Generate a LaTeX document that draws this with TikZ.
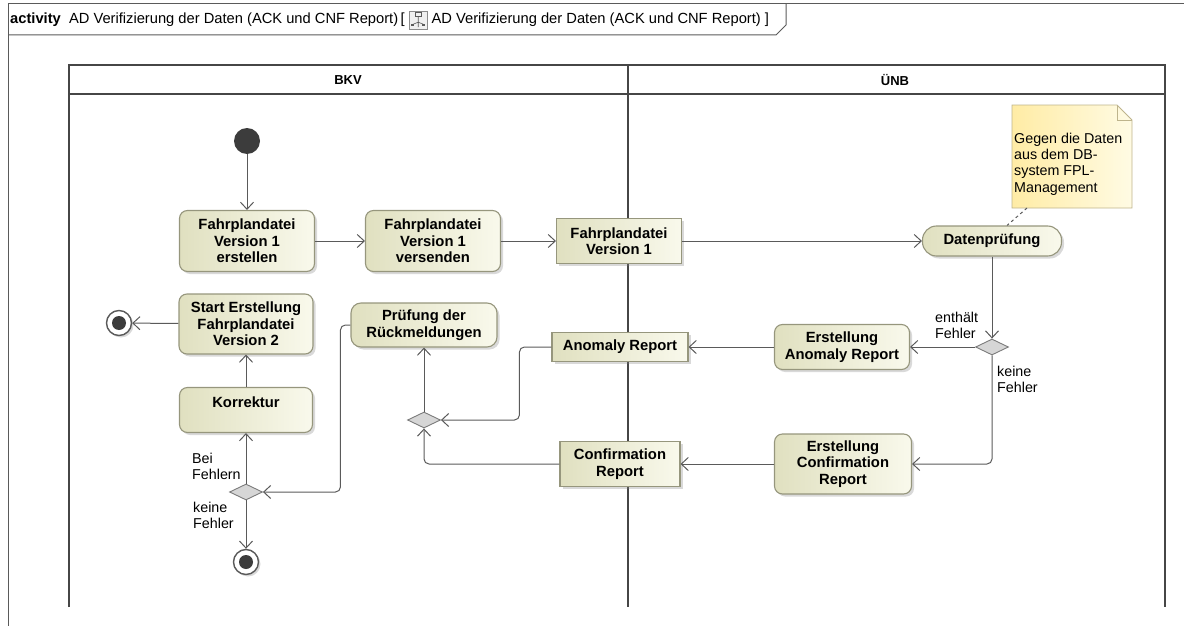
\documentclass[tikz,border=0pt]{standalone}
\usepackage{fontspec}
\setmainfont{Liberation Sans}
\usepackage{tikz}
\usetikzlibrary{shapes,arrows,positioning,calc,arrows.meta,shadows}

\definecolor{flowgray}{RGB}{90,90,90}
\definecolor{lanegray}{RGB}{70,70,70}
\definecolor{actleft}{RGB}{224,224,192}
\definecolor{actright}{RGB}{249,249,236}
\definecolor{actborder}{RGB}{150,150,125}
\definecolor{noteleft}{RGB}{255,236,165}
\definecolor{noteright}{RGB}{255,251,228}
\definecolor{noteborder}{RGB}{190,180,140}
\definecolor{decfill}{RGB}{214,214,214}
\definecolor{dotgray}{RGB}{60,60,60}

\newcommand{\lblfont}{\fontsize{14.3}{16.2}\selectfont}
\newcommand{\boldfont}{\fontsize{14.8}{16.5}\selectfont\bfseries}

\tikzset{
  action/.style={draw=actborder, line width=1.1pt, rounded corners=8pt,
    left color=actleft, right color=actright, align=center, inner sep=1pt,
    font=\boldfont, drop shadow={opacity=0.3, shadow xshift=2.5pt, shadow yshift=-2.5pt}},
  objnode/.style={action, sharp corners},
  decision/.style={diamond, aspect=2, draw=flowgray!80, fill=decfill, line width=0.9pt,
    inner sep=0pt, minimum width=33pt, minimum height=16pt},
  initnode/.style={circle, fill=dotgray, minimum size=26pt, inner sep=0pt},
  finalnode/.style={circle, draw=flowgray, line width=1.4pt, fill=white, minimum size=25pt,
    inner sep=0pt, drop shadow={opacity=0.3, shadow xshift=2pt, shadow yshift=-2pt},
    path picture={\fill[dotgray] (path picture bounding box.center) circle (7pt);}},
  flow/.style={draw=flowgray, line width=1pt, rounded corners=5pt,
    -{Straight Barb[length=7pt, width=13pt]}},
  notelink/.style={draw=flowgray, line width=1pt, dashed},
  guard/.style={font=\lblfont, align=left, inner sep=0pt},
  lane/.style={draw=lanegray, line width=2pt},
  outerframe/.style={draw=flowgray, line width=1pt},
  lanetitle/.style={font=\fontsize{13}{14}\selectfont\bfseries, inner sep=0pt},
  titletext/.style={font=\fontsize{14.7}{16}\selectfont, inner sep=0pt},
  iconbox/.style={draw=flowgray!70, fill=black!6, minimum size=18pt, inner sep=0pt,
    path picture={
      \draw[flowgray, line width=0.6pt] ($(path picture bounding box.center)+(-3pt,4pt)$) rectangle ++(6pt,4pt);
      \draw[flowgray, line width=0.6pt] ($(path picture bounding box.center)+(0pt,4pt)$) -- ++(0pt,-6pt) -- ++(-5pt,-2pt)
        ($(path picture bounding box.center)+(0pt,-2pt)$) -- ++(5pt,-2pt)
        ($(path picture bounding box.center)+(0pt,-2pt)$) -- ++(0pt,-5pt);
      \fill[flowgray] ($(path picture bounding box.center)+(-7pt,-6pt)$) rectangle ++(3pt,2pt);
      \fill[flowgray] ($(path picture bounding box.center)+(4pt,-6pt)$) rectangle ++(3pt,2pt);}},
}

\begin{document}
\begin{tikzpicture}[x=1pt,y=-1pt]
\useasboundingbox (0,0) rectangle (1184,626);

% frame and title tab
\draw[outerframe] (8,626) -- (8,4) -- (1184,4);
\draw[outerframe] (8,35) -- (776,35) -- (786,25) -- (786,4);
\node[titletext, anchor=base west] (title1) at (10,24) {\textbf{activity}\ \ AD Verifizierung der Daten (ACK und CNF Report)\,[};
\node[iconbox, right=4pt of title1] (icon) {};
\node[titletext, right=4pt of icon] (title2) {AD Verifizierung der Daten (ACK und CNF Report) ]};

% swimlanes
\draw[lane] (69,607) -- (69,65) -- (1165,65) -- (1165,607);
\draw[lane] (69,94) -- (1165,94);
\draw[lane] (628,65) -- (628,607);
\node[lanetitle] (bkv) at (348,80) {BKV};
\node[lanetitle] (unb) at (895,80) {ÜNB};

% note
\coordinate (notenw) at (1012,105);
\coordinate (notese) at (1132,208);
\coordinate (noteanchor) at (1027,208);
\shade[left color=noteleft, right color=noteright] (notenw) -- (1117,105) -- (1132,120) -- (notese) -- (1012,208) -- cycle;
\draw[draw=noteborder, line width=0.9pt] (notenw) -- (1117,105) -- (1132,120) -- (notese) -- (1012,208) -- cycle;
\draw[draw=noteborder, line width=0.9pt] (1117,105) -- (1117,120) -- (1132,120);
\node[guard, anchor=north west] (notetext) at (1014,133) {Gegen die Daten\\aus dem DB-\\system FPL-\\Management};

% actions and objects
\node[initnode] (init) at (247,141) {};
\node[action, minimum width=135pt, minimum height=61pt] (erst) at (247,241) {Fahrplandatei\\Version 1\\erstellen};
\node[action, minimum width=135pt, minimum height=61pt] (vers) at (433,241) {Fahrplandatei\\Version 1\\versenden};
\node[objnode, minimum width=125pt, minimum height=45pt] (fpv1) at (619,241) {Fahrplandatei\\Version 1};
\node[action, rounded corners=14pt, minimum width=139pt, minimum height=30pt] (datenp) at (992,241) {Datenprüfung};
\node[decision] (dec1) at (992,347) {};
\node[action, minimum width=135pt, minimum height=45pt] (ea) at (842,347) {Erstellung\\Anomaly Report};
\node[action, minimum width=137pt, minimum height=60pt] (ec) at (843,464) {Erstellung\\Confirmation\\Report};
\node[objnode, minimum width=136pt, minimum height=29pt] (anom) at (620,347) {Anomaly Report};
\node[objnode, minimum width=120pt, minimum height=45pt] (conf) at (620,464) {Confirmation\\Report};
\node[decision] (merge) at (424,420) {};
\node[action, rounded corners=10pt, minimum width=146pt, minimum height=44pt] (pruef) at (424,325) {Prüfung der\\Rückmeldungen};
\node[action, minimum width=134pt, minimum height=60pt] (start) at (246,324) {Start Erstellung\\Fahrplandatei\\Version 2};
\node[action, minimum width=133pt, minimum height=45pt] (korr) at (246,410) {Korrektur\\\mbox{}};
\node[decision] (dec2) at (246,492) {};
\node[finalnode] (fin1) at (119,323) {};
\node[finalnode] (fin2) at (246,562) {};

% guards
\node[guard, anchor=north west] (g1) at (935,312) {enthält\\Fehler};
\node[guard, anchor=north west] (g2) at (997,366) {keine\\Fehler};
\node[guard, anchor=north west] (g3) at (192,453) {Bei\\Fehlern};
\node[guard, anchor=north west] (g4) at (193,502) {keine\\Fehler};

% flows
\draw[flow] (init) -- (erst);
\draw[flow] (erst) -- (vers);
\draw[flow] (vers) -- (fpv1);
\draw[flow] (fpv1) -- (datenp);
\draw[flow] (datenp) -- (dec1);
\draw[flow] (dec1) -- (ea);
\draw[flow] (dec1.south) |- (ec.east);
\draw[flow] (ea) -- (anom);
\draw[flow] (ec) -- (conf);
\draw[flow] (anom.west) -- ++(-32,0) |- (merge.east);
\draw[flow] (conf.west) -| (merge.south);
\draw[flow] (merge) -- (pruef);
\draw[flow] (pruef.west) -- ++(-10,0) |- (dec2.east);
\draw[flow] (dec2) -- (korr);
\draw[flow] (korr) -- (start);
\draw[flow] (start) -- (fin1);
\draw[flow] (dec2) -- (fin2);
\draw[notelink] (noteanchor) -- ($(datenp.north)+(15,0)$);
\end{tikzpicture}
\end{document}
